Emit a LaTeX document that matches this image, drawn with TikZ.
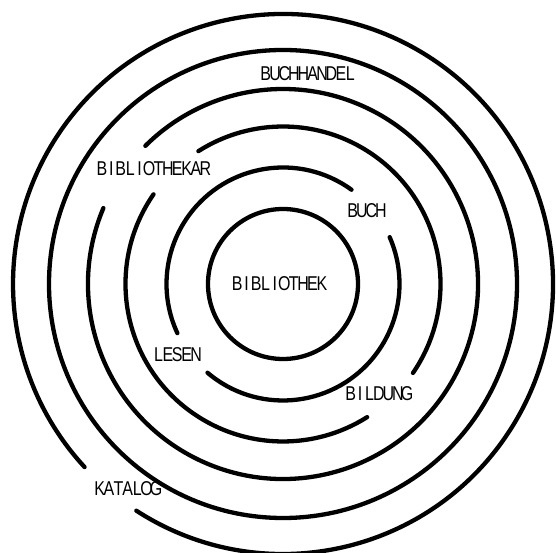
\documentclass[tikz,border=0pt]{standalone}
\usepackage{fontspec}
\newfontfamily\lblfont{Liberation Sans}[FakeStretch=0.8]
\newcommand\spaced[1]{\spacedloop#1\relax}
\def\spacedloop#1{\ifx#1\relax\else\makebox[9.4pt]{#1}\expandafter\spacedloop\fi}
\begin{document}
\begin{tikzpicture}[x=1pt,y=1pt,
  ring/.style={line width=4.3pt, line cap=round},
  lbl/.style={inner sep=0pt, font=\lblfont\fontsize{20}{20}\selectfont}]
\useasboundingbox (0,0) rectangle (556,553);
\coordinate (C) at (283,269);
\newcommand\ringarc[3]{\draw[ring] (C) ++(#1:#3) arc[start angle=#1,end angle=#2,radius=#3];}
% ring 1
\draw[ring] (C) circle[radius=75];
% ring 2
\ringarc{54}{205}{116.5}
\ringarc{229.6}{383.7}{116.5}
% ring 3
\ringarc{-34.4}{122.5}{157.5}
\ringarc{145.3}{302.3}{157.5}
% ring 4
\ringarc{157.1}{494.9}{195}
% ring 5
\draw[ring] (C) circle[radius=234];
% ring 6
\ringarc{237.1}{582.7}{270}
% labels
\node[lbl] (bibliothek) at (279.6,269.3) {\spaced{BIBLIOTHEK}};
\node[lbl] (buch) at (366.7,342.7) {\spaced{BUCH}};
\node[lbl] (lesen) at (177.3,198) {\spaced{LESEN}};
\node[lbl] (bildung) at (379,159) {\spaced{BILDUNG}};
\node[lbl] (bibliothekar) at (153.7,384) {\spaced{BIBLIOTHEKAR}};
\node[lbl] (buchhandel) at (308,479) {\spaced{BUCHHANDEL}};
\node[lbl] (katalog) at (127.8,64) {\spaced{KATALOG}};
\end{tikzpicture}
\end{document}
